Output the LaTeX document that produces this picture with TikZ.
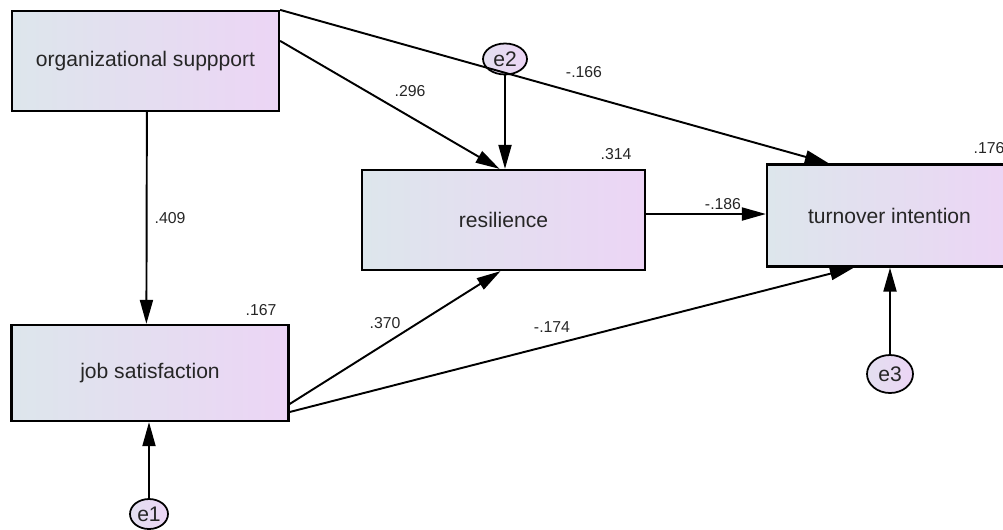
\documentclass[tikz,border=0pt]{standalone}
\usepackage{fontspec}
\setmainfont{Liberation Sans}
\usetikzlibrary{positioning, shapes, calc, arrows.meta}
\definecolor{varleft}{RGB}{221,230,236}
\definecolor{varright}{RGB}{236,213,245}
\tikzset{var/.style={draw,rectangle,line width=1.3pt,inner sep=0pt,align=center,left color=varleft,right color=varright,text=black!85,font=\fontsize{12}{14}\selectfont}}
\tikzset{err/.style={draw,ellipse,line width=1pt,inner sep=0pt,left color=varleft!60!varright,right color=varright,text=black!85,font=\fontsize{12}{14}\selectfont}}
\tikzset{eff/.style={-{Triangle[length=0.48cm,width=0.26cm]},line width=1.1pt}}
\tikzset{coef/.style={inner sep=0pt,text=black!85,font=\fontsize{9}{11}\selectfont}}

\begin{document}
\begin{tikzpicture}[x=0.02cm,y=-0.02cm]
		\useasboundingbox (0,0) rectangle (1003,529);
		% Draw variables
		\node[var, minimum width=5.34cm, minimum height=2cm] (os) at (145.5,61) {organizational suppport};
		\node[var, minimum width=5.54cm, minimum height=1.92cm] (js) at (150,373) {job satisfaction};
		\node[var, minimum width=5.66cm, minimum height=2cm] (res) at (503.5,220) {resilience};
		\node[var, minimum width=4.9cm, minimum height=2.04cm] (ti) at (889.5,215.5) {turnover intention};
		% Draw error terms
		\node[err, minimum width=0.76cm, minimum height=0.6cm] (e1) at (149,514) {e1};
		\node[err, minimum width=0.88cm, minimum height=0.62cm] (e2) at (505,59) {e2};
		\node[err, minimum width=0.92cm, minimum height=0.76cm] (e3) at (890,374) {e3};
		% Draw the paths
		\draw[eff] ($(os.south west)+(136,0)$) -- node[coef, right=4pt] (c409) {.409} ($(js.north west)+(136,0)$);
		\draw[eff] ($(os.north east)+(0,31)$) -- ($(res.north)+(-4,0)$);
		\draw[eff] (os.north east) -- ($(ti.north west)+(63,0)$);
		\draw[eff] (e2) -- (e2 |- res.north);
		\draw[eff] ($(res.east)+(0,-6)$) -- ($(ti.west)+(0,-1.5)$);
		\draw[eff] ($(js.east)+(0,31)$) -- ($(res.south)+(-3,0)$);
		\draw[eff] ($(js.east)+(0,39)$) -- ($(ti.south west)+(88,0)$);
		\draw[eff] (e1) -- (e1 |- js.south);
		\draw[eff] (e3) -- (e3 |- ti.south);
		% Draw the coefficients
		\node[coef] (c296) at (410,91) {.296};
		\node[coef] (c166) at (584,72) {-.166};
		\node[coef] (c186) at (723,204) {-.186};
		\node[coef] (c370) at (385,323) {.370};
		\node[coef] (c174) at (552,327) {-.174};
		\node[coef] (r167) at (261,310) {.167};
		\node[coef] (r314) at (616,154) {.314};
		\node[coef] (r176) at (989,148) {.176};
	\end{tikzpicture}
\end{document}
